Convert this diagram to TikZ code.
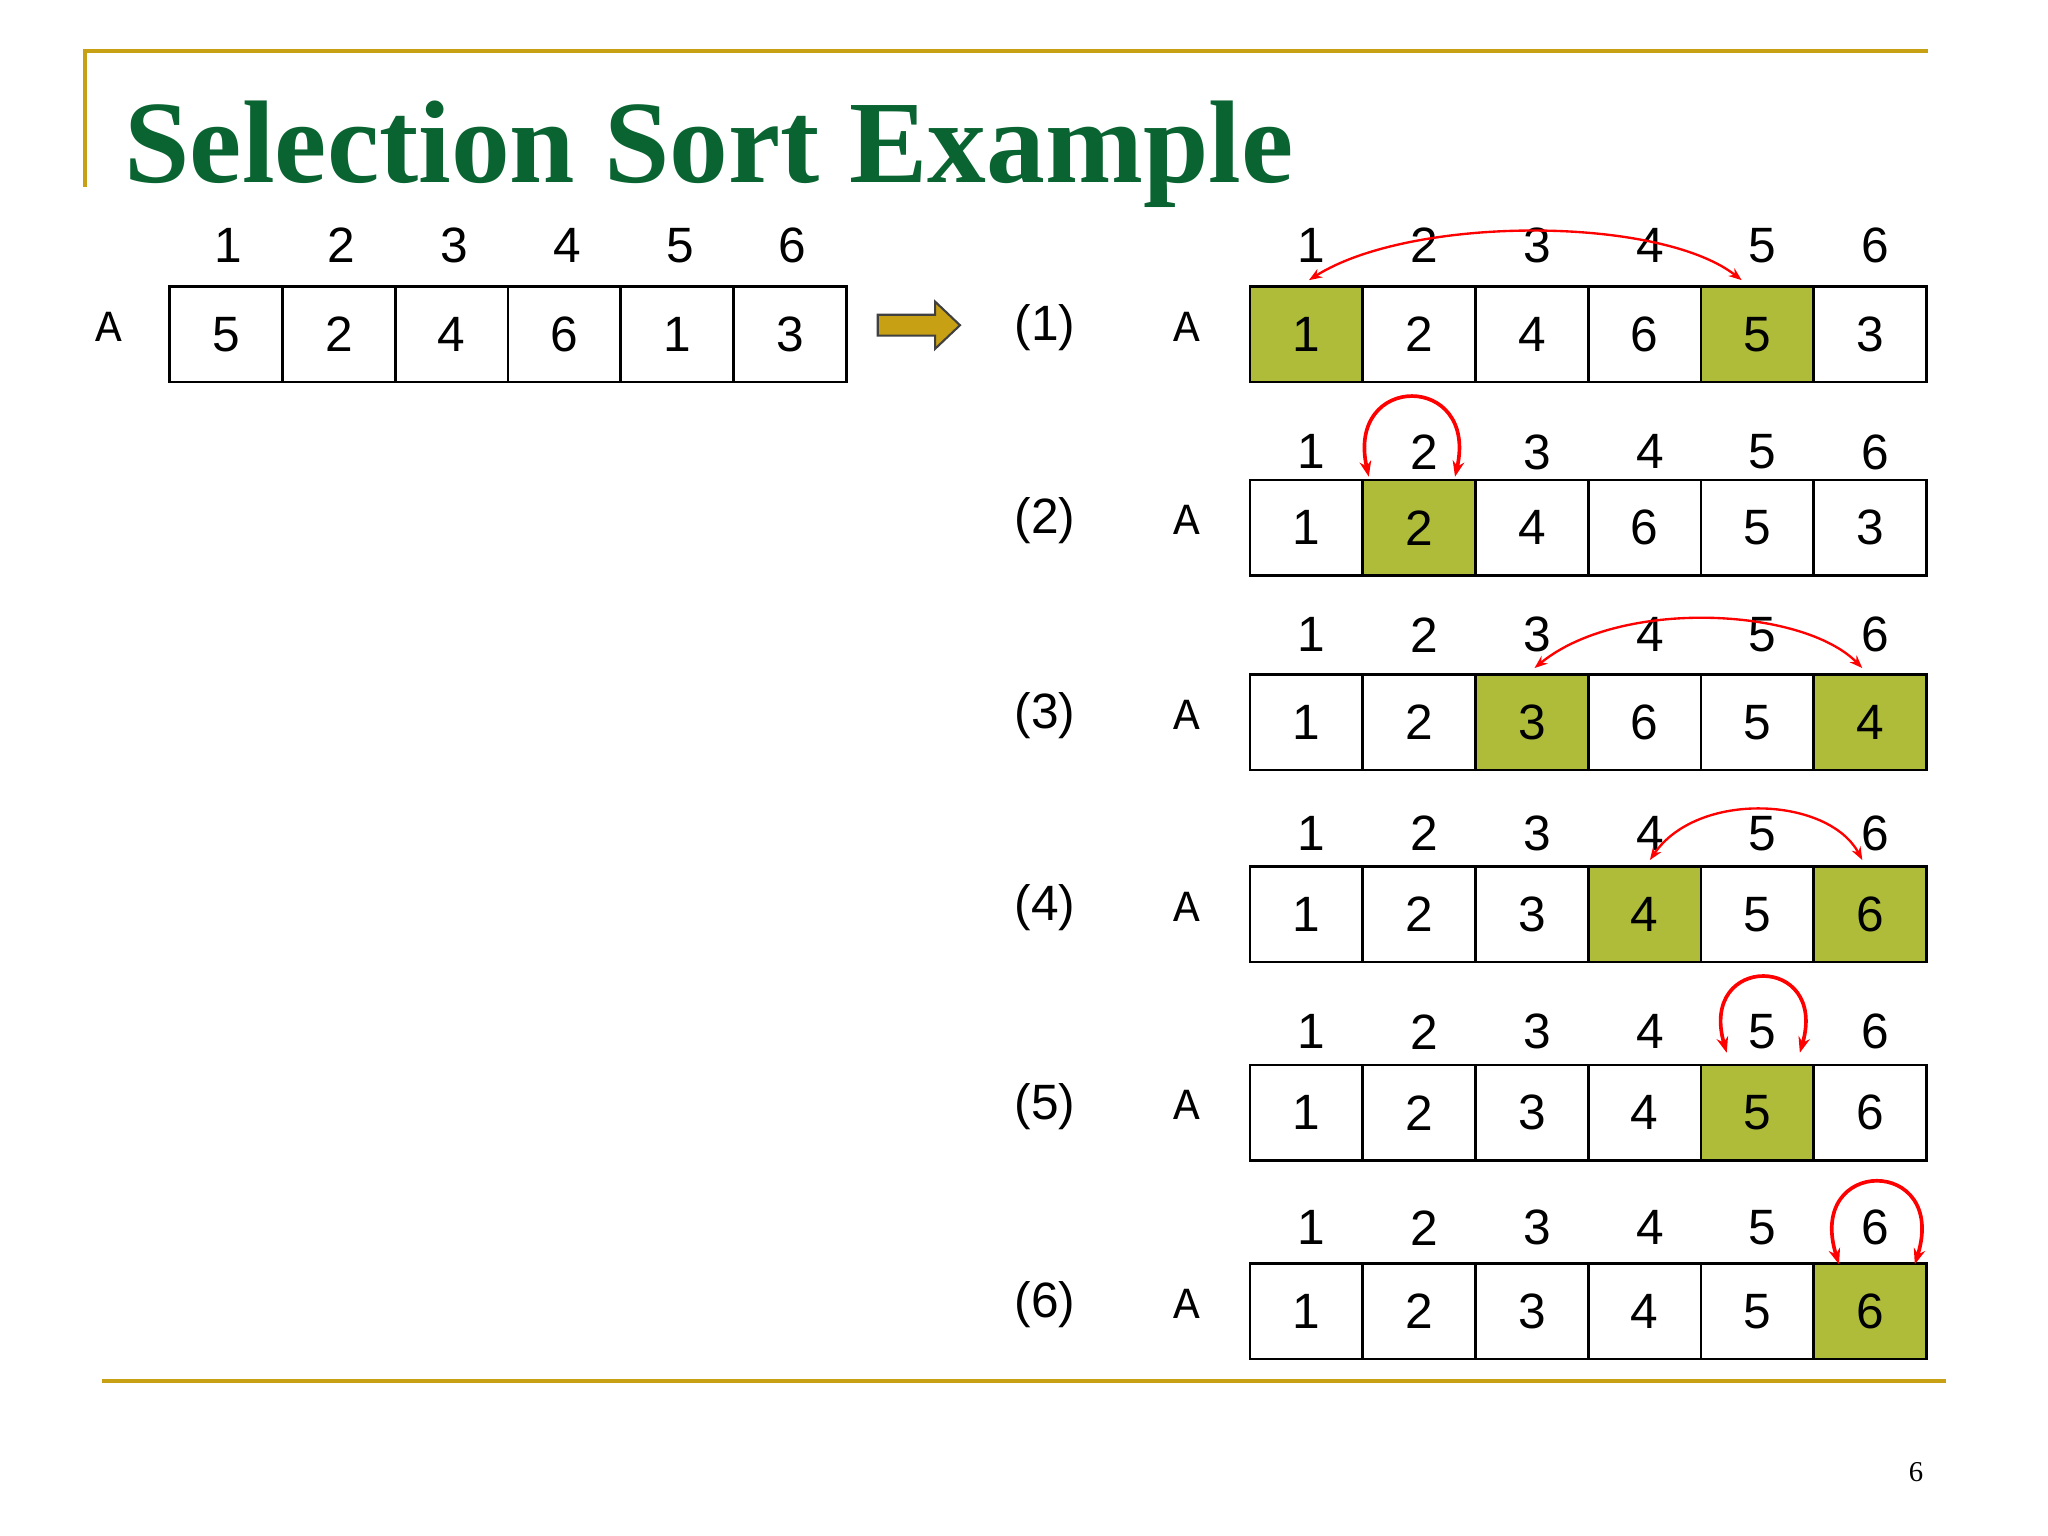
\documentclass[tikz,border=0pt]{standalone}
\usepackage{fontspec}
\setmainfont{Liberation Sans}
\newfontfamily\titlefont{Liberation Serif}
\newfontfamily\cmonofont{Liberation Mono}
\usetikzlibrary{arrows.meta}
\definecolor{gold}{RGB}{200,160,20}
\definecolor{ttl}{RGB}{10,100,50}
\definecolor{hl}{RGB}{174,188,58}
\tikzset{cellbox/.style={draw=black,line width=1pt,minimum width=43.2pt,minimum height=36.5pt,inner sep=0,font=\fontsize{19}{19}\selectfont},
 idx/.style={font=\fontsize{19}{19}\selectfont,inner sep=0},
 lab/.style={font=\fontsize{19}{19}\selectfont,inner sep=0},
 aname/.style={font=\cmonofont\fontsize{17}{17}\selectfont,inner sep=0},
 swap/.style={red,line width=0.9pt,{Stealth[length=5pt]}-{Stealth[length=5pt]}},
 loopar/.style={red,line width=1.4pt,{Stealth[length=6pt]}-{Stealth[length=6pt]}}}
\begin{document}
\begin{tikzpicture}[x=0.5pt,y=-0.5pt]
\useasboundingbox[fill=white] (0,0) rectangle (1568,1176);
\draw[gold,line width=1.5pt] (65,143) coordinate (tl1) -- (65,39) -- (1476,39);
\draw[gold,line width=1.5pt] (78,1057) -- (1490,1057);
\node[anchor=base west,text=ttl,font=\titlefont\bfseries\fontsize{45}{45}\selectfont,inner sep=0] (title) at (95,140) {Selection Sort Example};
\node[font=\titlefont\fontsize{11}{11}\selectfont] (pg) at (1467,1127) {6};
% original
\node[aname] (A0) at (83,250) {A};
\foreach \v [count=\i] in {5,2,4,6,1,3}{
 \node[cellbox] (o\i) at ({130+86.33*(\i-0.5)},256) {\v};
 \node[idx] (oi\i) at ({130+86.33*(\i-0.5)+2},188) {\i};
}
\draw[fill=gold,draw=black!75,line width=0.8pt] (672,241) -- (716,241) -- (716,231) -- (735,249) -- (716,267) -- (716,257) -- (672,257) -- cycle;
% right rows
\foreach \r/\top/\itop/\vals/\hla/\hlb in {1/219/188/{1,2,4,6,5,3}/1/5, 2/367/346/{1,2,4,6,5,3}/2/2, 3/516/486/{1,2,3,6,5,4}/3/6, 4/663/638/{1,2,3,4,5,6}/4/6, 5/815/790/{1,2,3,4,5,6}/5/5, 6/967/940/{1,2,3,4,5,6}/6/6}{
 \node[lab] (L\r) at (800,{\top+32}) {(\r)};
 \node[aname] (A\r) at (909,{\top+31}) {A};
 \foreach \v [count=\i] in \vals{
  \pgfmathsetmacro\isH{(\i==\hla)||(\i==\hlb)}
  \ifnum\isH>0 \def\fc{hl}\else\def\fc{white}\fi
  \node[cellbox,fill=\fc] (c\r-\i) at ({957+86.33*(\i-0.5)},{\top+37}) {\v};
  \node[idx] (i\r-\i) at ({957+86.33*(\i-0.5)+4},\itop) {\i};
 }
}
\draw[swap] ([xshift=1pt,yshift=2pt]c1-1.north) .. controls (1080,165) and (1270,165) .. ([xshift=-6pt,yshift=2pt]c1-5.north);
\draw[swap] ([xshift=1pt,yshift=2pt]c3-3.north) .. controls (1240,458) and (1380,465) .. ([xshift=-3pt,yshift=2pt]c3-6.north);
\draw[swap] ([xshift=2pt,yshift=2pt]c4-4.north) .. controls (1300,605) and (1400,610) .. ([xshift=-3pt,yshift=2pt]c4-6.north);
\coordinate (l2a) at (1048,365); \coordinate (l2b) at (1114,365);
\draw[loopar] (l2a) .. controls (1030,285) and (1132,285) .. (l2b);
\coordinate (l5a) at (1322,806); \coordinate (l5b) at (1378,806);
\draw[loopar] (l5a) .. controls (1300,730) and (1400,730) .. (l5b);
\coordinate (l6a) at (1408,968); \coordinate (l6b) at (1466,968);
\draw[loopar] (l6a) .. controls (1382,885) and (1492,885) .. (l6b);
\end{tikzpicture}
\end{document}
